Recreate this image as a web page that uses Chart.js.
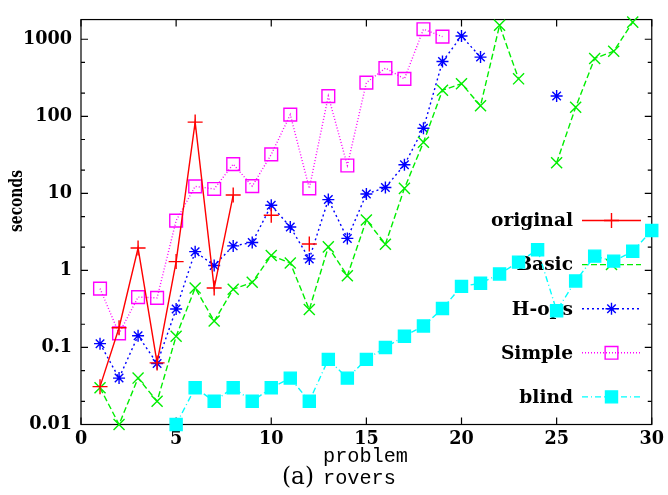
<!DOCTYPE html>
<html><head><meta charset="utf-8">
<script src="https://cdn.jsdelivr.net/npm/chart.js@4/dist/chart.umd.min.js"></script>
<style>html,body{margin:0;padding:0;background:#fff;}#wrap{position:relative;width:668px;height:495px;}</style>
</head><body><div id="wrap"><canvas id="c" width="668" height="495"></canvas></div>
<script>
const problems = [1,2,3,4,5,6,7,8,9,10,11,12,13,14,15,16,17,18,19,20,21,22,23,24,25,26,27,28,29,30];
const original = [0.031,0.18,1.95,0.063,1.3,84,0.59,9.5,null,5.2,null,2.2,null,null,null,null,null,null,null,null,null,null,null,null,null,null,null,null,null,null];
const basic = [0.03,0.01,0.04,0.02,0.14,0.59,0.22,0.57,0.70,1.56,1.25,0.31,2.02,0.85,4.5,2.19,11.6,46,218,265,137,1515,306,null,25,131,564,698,1667,null];
const hops = [0.112,0.040,0.142,0.062,0.315,1.75,1.16,2.08,2.3,7.0,3.66,1.41,8.3,2.6,9.8,11.9,23.5,70,513,1100,586,null,null,null,183,null,null,null,null,null];
const simple = [0.58,0.152,0.45,0.44,4.43,12.3,11.4,23.9,12.4,32,105,11.6,183,23,273,422,306,1350,1080,null,null,null,null,null,null,null,null,null,null,null];
const blind = [null,null,null,null,0.01,0.03,0.02,0.03,0.02,0.03,0.04,0.02,0.07,0.04,0.07,0.10,0.14,0.19,0.32,0.62,0.68,0.90,1.28,1.85,0.30,0.73,1.53,1.32,1.77,3.3];
const seriesNames = ['original','Basic','H-ops','Simple','blind'];
const xTickValues = [0,5,10,15,20,25,30];
const yTickValues = [0.01,0.1,1,10,100,1000];
const yTickLabels = ['0.01','0.1','1','10','100','1000'];
const yMinorValues = [0.02,0.05,0.2,0.5,2,5,20,50,200,500];
const xTitle = 'problem';
const yTitle = 'seconds';
const captionPrefix = '(a)';
const captionName = 'rovers';

const seriesValues = [original, basic, hops, simple, blind];
const styles = [
  {color:'#ff0000', dash:[], point:'cross', radius:7.5, fill:'rgba(0,0,0,0)'},
  {color:'#00ee00', dash:[6,3], point:'crossRot', radius:7.8, fill:'rgba(0,0,0,0)'},
  {color:'#0000ff', dash:[2,3], point:'star', radius:6, fill:'rgba(0,0,0,0)'},
  {color:'#ff00ff', dash:[1,2], point:'rect', radius:9, fill:'rgba(0,0,0,0)'},
  {color:'#00ffff', dash:[6,3,1,3], point:'rect', radius:8.5, fill:'#00ffff'}
];

// font size fitting so rendered text widths match the reference
const mctx = document.createElement('canvas').getContext('2d');
function fitSize(text, family, weight, targetW) {
  mctx.font = weight + ' 20px ' + family;
  return 20 * targetW / mctx.measureText(text).width;
}
const tickSize = fitSize('1000', '"DejaVu Serif"', 'bold', 49);
const legendSize = fitSize('original', '"DejaVu Serif"', 'bold', 82);
const monoSize = fitSize('problem', '"Liberation Mono"', 'normal', 85);
const capSize = fitSize('(a)', '"DejaVu Serif"', 'normal', 32);
const yTitleFont = 'bold 18px "DejaVu Serif"';
mctx.font = yTitleFont;
const yTitleSquash = 62 / mctx.measureText(yTitle).width;

const datasets = seriesValues.map((arr, i) => ({
  label: seriesNames[i],
  data: problems.map((p, j) => ({x: p, y: arr[j]})),
  borderColor: styles[i].color,
  backgroundColor: styles[i].fill,
  borderWidth: 1.4,
  borderDash: styles[i].dash,
  pointStyle: styles[i].point,
  pointRadius: styles[i].radius,
  pointHoverRadius: styles[i].radius,
  pointBorderColor: styles[i].color,
  pointBackgroundColor: styles[i].fill,
  pointBorderWidth: 1.4,
  tension: 0,
  spanGaps: false,
  clip: false
}));

const deco = {
  id: 'deco',
  beforeDatasetsDraw(chart) {
    const ctx = chart.ctx;
    const a = chart.chartArea;
    const xs = chart.scales.x, ys = chart.scales.y;
    ctx.save();
    ctx.font = 'bold ' + legendSize + 'px "DejaVu Serif"';
    ctx.textAlign = 'right';
    ctx.textBaseline = 'middle';
    for (let i = 0; i < seriesNames.length; i++) {
      const y = 220.5 + i * 44.1;
      ctx.fillStyle = '#000';
      ctx.fillText(seriesNames[i], 573, y + 1);
      ctx.strokeStyle = styles[i].color;
      ctx.lineWidth = 1.4;
      ctx.setLineDash(styles[i].dash);
      ctx.beginPath(); ctx.moveTo(582, y); ctx.lineTo(641, y); ctx.stroke();
      ctx.setLineDash([]);
      ctx.fillStyle = styles[i].fill;
      Chart.helpers.drawPoint(ctx, {pointStyle: styles[i].point, radius: styles[i].radius, rotation: 0, borderWidth: 1.4}, 611.5, y);
    }
    ctx.setLineDash([]);
    ctx.strokeStyle = '#000';
    ctx.lineWidth = 1.2;
    ctx.strokeRect(a.left, a.top, a.right - a.left, a.bottom - a.top);
    ctx.beginPath();
    yTickValues.forEach(v => {
      const y = ys.getPixelForValue(v);
      ctx.moveTo(a.left, y); ctx.lineTo(a.left + 7, y);
      ctx.moveTo(a.right, y); ctx.lineTo(a.right - 7, y);
    });
    yMinorValues.forEach(v => {
      const y = ys.getPixelForValue(v);
      ctx.moveTo(a.left, y); ctx.lineTo(a.left + 4, y);
      ctx.moveTo(a.right, y); ctx.lineTo(a.right - 4, y);
    });
    xTickValues.forEach(v => {
      const x = xs.getPixelForValue(v);
      ctx.moveTo(x, a.bottom); ctx.lineTo(x, a.bottom - 7);
      ctx.moveTo(x, a.top); ctx.lineTo(x, a.top + 7);
    });
    ctx.stroke();
    ctx.restore();
  },
  afterDraw(chart) {
    const ctx = chart.ctx;
    ctx.save();
    ctx.fillStyle = '#000';
    ctx.translate(17, 201);
    ctx.rotate(-Math.PI / 2);
    ctx.scale(yTitleSquash, 1);
    ctx.font = yTitleFont;
    ctx.textAlign = 'center';
    ctx.textBaseline = 'middle';
    ctx.fillText(yTitle, 0, 0);
    ctx.restore();
    ctx.save();
    ctx.fillStyle = '#000';
    ctx.textBaseline = 'alphabetic';
    ctx.textAlign = 'left';
    ctx.font = monoSize + 'px "Liberation Mono"';
    ctx.fillText(xTitle, 323, 462);
    ctx.fillText(captionName, 323, 484);
    ctx.font = capSize + 'px "DejaVu Serif"';
    ctx.fillText(captionPrefix, 282, 484);
    ctx.restore();
  }
};

new Chart(document.getElementById('c'), {
  type: 'line',
  data: {datasets},
  options: {
    responsive: false,
    animation: false,
    devicePixelRatio: 1,
    layout: {padding: {left: 0, right: 11.5, top: 9.3, bottom: 0}},
    plugins: {legend: {display: false}, tooltip: {enabled: false}},
    scales: {
      x: {
        type: 'linear', min: 0, max: 30,
        afterBuildTicks: s => { s.ticks = xTickValues.map(v => ({value: v})); },
        grid: {display: false, drawTicks: false},
        border: {display: false},
        ticks: {font: {family: '"DejaVu Serif"', weight: 'bold', size: tickSize}, color: '#000', padding: 4, maxRotation: 0, autoSkip: false},
        afterFit: s => { s.height = 495 - 424.5; }
      },
      y: {
        type: 'logarithmic', min: 0.01, max: 1800,
        afterBuildTicks: s => { s.ticks = yTickValues.map(v => ({value: v})); },
        grid: {display: false, drawTicks: false},
        border: {display: false},
        ticks: {font: {family: '"DejaVu Serif"', weight: 'bold', size: tickSize}, color: '#000', padding: 9, autoSkip: false,
          callback: (v, i) => yTickLabels[i]},
        afterFit: s => { s.width = 81; }
      }
    }
  },
  plugins: [deco]
});
</script></body></html>
